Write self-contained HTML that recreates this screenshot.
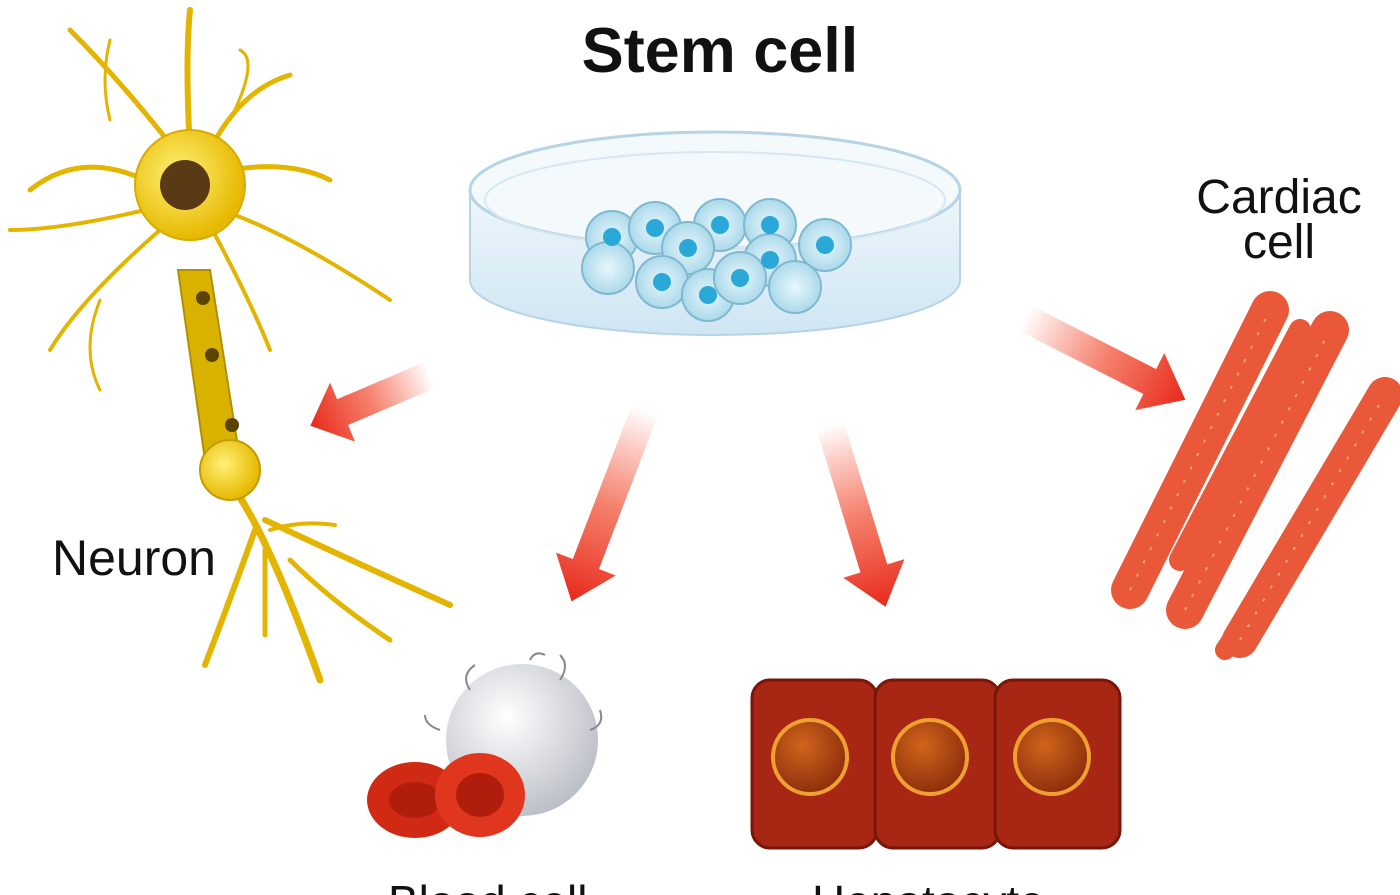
<!DOCTYPE html>
<html><head><meta charset="utf-8"><style>
html,body{margin:0;padding:0;background:#fff;width:1400px;height:895px;overflow:hidden}
svg{display:block}
text{font-family:"Liberation Sans",sans-serif;fill:#111}
</style></head><body>
<svg width="1400" height="895" viewBox="0 0 1400 895" xmlns="http://www.w3.org/2000/svg">
<defs>
<linearGradient id="ar" x1="0" y1="0" x2="1" y2="0"><stop offset="0" stop-color="#f23a1e" stop-opacity="0"/><stop offset="0.5" stop-color="#f04a2e" stop-opacity="0.7"/><stop offset="1" stop-color="#e8281a"/></linearGradient>
<radialGradient id="yb" cx="0.4" cy="0.4" r="0.6"><stop offset="0" stop-color="#fff176"/><stop offset="1" stop-color="#e6b800"/></radialGradient>
<radialGradient id="ws" cx="0.4" cy="0.35" r="0.7"><stop offset="0" stop-color="#ffffff"/><stop offset="1" stop-color="#b8bcc4"/></radialGradient>
<radialGradient id="nu" cx="0.4" cy="0.35" r="0.7"><stop offset="0" stop-color="#d0651c"/><stop offset="1" stop-color="#8a2a0a"/></radialGradient>
<radialGradient id="sc" cx="0.5" cy="0.5" r="0.6"><stop offset="0" stop-color="#e8f7fc"/><stop offset="1" stop-color="#9fd3e6"/></radialGradient>
<linearGradient id="dish" x1="0" y1="0" x2="0" y2="1"><stop offset="0" stop-color="#eef6fb"/><stop offset="1" stop-color="#cfe6f3"/></linearGradient>
</defs>
<text x="720" y="72" font-size="63" font-weight="bold" text-anchor="middle">Stem cell</text>
<path d="M470 190 L470 280 A245 55 0 0 0 960 280 L960 190 Z" fill="url(#dish)" stroke="#b7d3e6" stroke-width="2"/>
<ellipse cx="715" cy="190" rx="245" ry="58" fill="#f4f9fc" stroke="#b7d3e6" stroke-width="3"/>
<ellipse cx="715" cy="200" rx="230" ry="48" fill="none" stroke="#d6e8f2" stroke-width="2"/>
<g stroke="#7fb8d0" stroke-width="2">
<circle cx="612" cy="237" r="26" fill="url(#sc)"/><circle cx="655" cy="228" r="26" fill="url(#sc)"/><circle cx="720" cy="225" r="26" fill="url(#sc)"/><circle cx="770" cy="225" r="26" fill="url(#sc)"/><circle cx="825" cy="245" r="26" fill="url(#sc)"/><circle cx="688" cy="248" r="26" fill="url(#sc)"/><circle cx="770" cy="260" r="26" fill="url(#sc)"/><circle cx="608" cy="268" r="26" fill="url(#sc)"/><circle cx="662" cy="282" r="26" fill="url(#sc)"/><circle cx="708" cy="295" r="26" fill="url(#sc)"/><circle cx="740" cy="278" r="26" fill="url(#sc)"/><circle cx="795" cy="287" r="26" fill="url(#sc)"/>
</g>
<g fill="#2aa8d8"><circle cx="612" cy="237" r="9"/><circle cx="655" cy="228" r="9"/><circle cx="720" cy="225" r="9"/><circle cx="770" cy="225" r="9"/><circle cx="825" cy="245" r="9"/><circle cx="688" cy="248" r="9"/><circle cx="770" cy="260" r="9"/><circle cx="662" cy="282" r="9"/><circle cx="708" cy="295" r="9"/><circle cx="740" cy="278" r="9"/></g>
<g stroke="#e3b400" fill="none" stroke-linecap="round">
<path d="M190 150 Q185 60 190 10" stroke-width="6"/><path d="M175 150 Q120 80 70 30" stroke-width="5"/><path d="M210 150 Q240 90 290 75" stroke-width="5"/><path d="M145 180 Q80 150 30 190" stroke-width="5"/><path d="M145 210 Q60 230 10 230" stroke-width="4"/><path d="M160 230 Q80 300 50 350" stroke-width="4"/><path d="M230 170 Q290 160 330 180" stroke-width="5"/><path d="M235 215 Q300 240 390 300" stroke-width="4"/><path d="M215 235 Q250 300 270 350" stroke-width="4"/><path d="M110 120 Q100 80 110 40" stroke-width="3"/><path d="M230 120 Q260 60 240 50" stroke-width="3"/><path d="M100 300 Q80 350 100 390" stroke-width="3"/>
<path d="M235 490 Q270 540 320 680" stroke-width="7"/><path d="M255 530 Q230 600 205 665" stroke-width="6"/><path d="M265 550 Q265 600 265 635" stroke-width="5"/><path d="M265 520 Q350 560 450 605" stroke-width="6"/><path d="M290 560 Q330 600 390 640" stroke-width="5"/><path d="M270 530 Q300 520 335 525" stroke-width="4"/>
</g>
<path d="M178 270 L210 270 L240 460 L205 460 Z" fill="#d9b200" stroke="#b08f00" stroke-width="2"/>
<circle cx="230" cy="470" r="30" fill="url(#yb)" stroke="#c49a00" stroke-width="2"/>
<circle cx="190" cy="185" r="55" fill="url(#yb)" stroke="#d9ab00" stroke-width="2"/>
<circle cx="185" cy="185" r="25" fill="#5a3a14"/>
<g fill="#5a4400"><circle cx="203" cy="298" r="7"/><circle cx="212" cy="355" r="7"/><circle cx="232" cy="425" r="7"/></g>
<text x="52" y="575" font-size="50">Neuron</text>
<g fill="url(#ar)">
<g transform="translate(430,375) rotate(157)"><path d="M0 -14 L95 -14 L95 -32 L130 0 L95 32 L95 14 L0 14 Z"/></g>
<g transform="translate(645,410) rotate(111)"><path d="M0 -14 L165 -14 L165 -32 L205 0 L165 32 L165 14 L0 14 Z"/></g>
<g transform="translate(830,425) rotate(73)"><path d="M0 -14 L150 -14 L150 -32 L190 0 L150 32 L150 14 L0 14 Z"/></g>
<g transform="translate(1025,318) rotate(27)"><path d="M0 -14 L140 -14 L140 -32 L180 0 L140 32 L140 14 L0 14 Z"/></g>
</g>
<text x="1279" y="213" font-size="48" text-anchor="middle">Cardiac</text>
<text x="1279" y="258" font-size="48" text-anchor="middle">cell</text>
<g stroke="#e8502e" stroke-linecap="round" fill="none" opacity="0.95">
<path d="M1130 590 L1270 310" stroke-width="38"/><path d="M1185 610 L1330 330" stroke-width="38"/><path d="M1240 640 L1385 395" stroke-width="36"/><path d="M1180 560 L1300 330" stroke-width="22"/><path d="M1225 650 L1350 460" stroke-width="20"/>
</g>
<g stroke="#f7a080" stroke-width="2" stroke-dasharray="3 12" fill="none">
<path d="M1130 590 L1270 310"/><path d="M1185 610 L1330 330"/><path d="M1240 640 L1385 395"/>
</g>
<circle cx="522" cy="740" r="76" fill="url(#ws)"/>
<g stroke="#888" stroke-width="2" fill="none"><path d="M470 690 q-10 -15 5 -25"/><path d="M560 680 q10 -15 0 -25"/><path d="M590 730 q15 -5 10 -20"/><path d="M440 730 q-15 -5 -15 -15"/><path d="M530 660 q5 -10 15 -5"/></g>
<ellipse cx="415" cy="800" rx="48" ry="38" fill="#d02a14"/><ellipse cx="415" cy="800" rx="26" ry="18" fill="#b01d0c"/>
<ellipse cx="480" cy="795" rx="45" ry="42" fill="#e0361e"/><ellipse cx="480" cy="795" rx="24" ry="22" fill="#b01d0c"/>
<g fill="#a82614" stroke="#7a1608" stroke-width="3">
<rect x="752" y="680" width="125" height="168" rx="18"/><rect x="875" y="680" width="125" height="168" rx="18"/><rect x="995" y="680" width="125" height="168" rx="18"/>
</g>
<g fill="url(#nu)" stroke="#f0a030" stroke-width="4"><circle cx="810" cy="757" r="37"/><circle cx="930" cy="757" r="37"/><circle cx="1052" cy="757" r="37"/></g>
<text x="388" y="918" font-size="46">Blood cell</text>
<text x="812" y="918" font-size="46">Hepatocyte</text>
</svg>
</body></html>
